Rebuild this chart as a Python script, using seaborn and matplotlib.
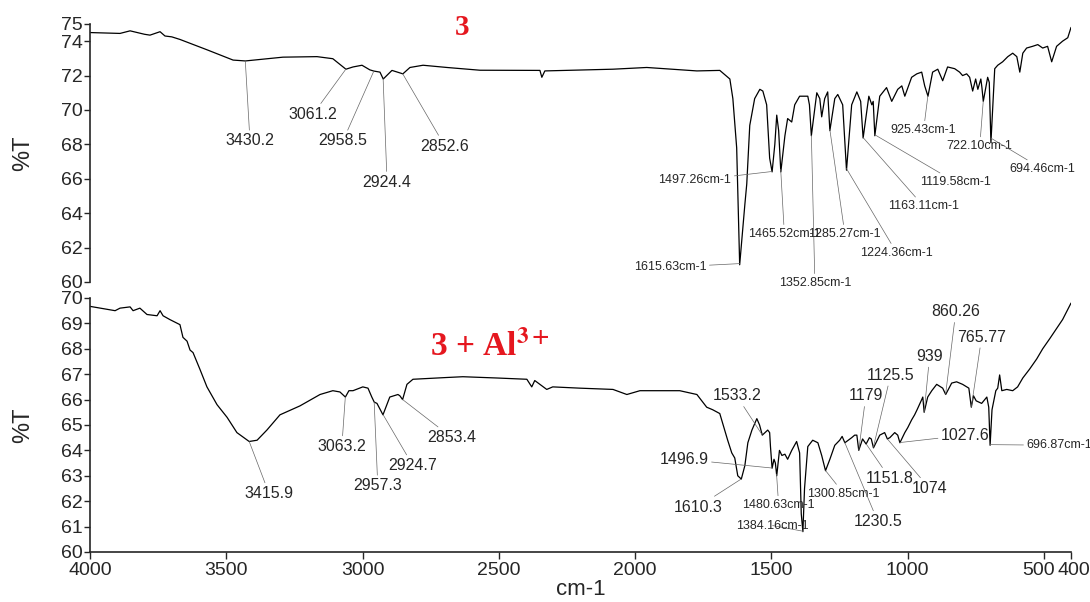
import numpy as np
import matplotlib
matplotlib.use("Agg")
import matplotlib.pyplot as plt
import matplotlib.transforms as mtransforms
import seaborn as sns

# --- Spectrum of 3 (top panel) ---
top_wn = [4000, 3890, 3853, 3800, 3780, 3743, 3725, 3700, 3670, 3571, 3475, 3430,
          3292, 3167, 3109, 3061, 3035, 3002, 2973, 2958, 2936, 2924, 2892, 2852,
          2826, 2778, 2690, 2569, 2349, 2342, 2331, 2081, 1957, 1773, 1689, 1652,
          1641, 1627, 1616, 1597, 1590, 1579, 1561, 1542, 1531, 1517, 1506, 1497,
          1487, 1480, 1473, 1465, 1450, 1440, 1425, 1414, 1396, 1366, 1360, 1353,
          1333, 1322, 1315, 1304, 1293, 1285, 1267, 1256, 1238, 1224, 1205, 1186,
          1172, 1163, 1142, 1131, 1126, 1120, 1102, 1077, 1058, 1036, 1021, 1010,
          985, 966, 948, 937, 925, 908, 889, 871, 853, 827, 809, 798, 783, 772,
          761, 750, 742, 731, 727, 722, 706, 700, 694, 680, 669, 651, 632, 614,
          599, 588, 577, 563, 541, 522, 504, 486, 471, 453, 431, 412, 400]
top_t = [74.5, 74.45, 74.6, 74.4, 74.35, 74.55, 74.3, 74.25, 74.1, 73.5, 72.9, 72.85,
         73.07, 73.1, 72.98, 72.37, 72.5, 72.6, 72.33, 72.26, 72.2, 71.8, 72.3, 72.1,
         72.47, 72.6, 72.47, 72.31, 72.3, 71.9, 72.27, 72.37, 72.47, 72.27, 72.3, 71.8,
         70.66, 67.8, 61.0, 64.5, 65.7, 69.1, 70.66, 71.2, 71.1, 70.3, 67.2, 66.4,
         68.0, 69.7, 68.8, 66.4, 68.5, 69.5, 69.3, 70.3, 70.8, 70.8, 70.3, 68.5,
         71.0, 70.66, 69.6, 70.66, 71.05, 68.8, 70.66, 70.9, 70.3, 66.5, 70.3, 71.05,
         70.5, 68.37, 70.8, 70.3, 70.5, 68.5, 70.8, 71.3, 70.5, 71.2, 71.4, 70.8,
         71.9, 72.1, 72.2, 71.4, 70.8, 72.2, 72.37, 71.7, 72.5, 72.4, 72.2, 72.0, 72.1, 71.9,
         71.1, 71.8, 71.2, 71.8, 71.3, 70.5, 71.9, 71.6, 68.1, 72.4, 72.6, 72.8, 73.1, 73.3,
         73.1, 72.2, 73.3, 73.6, 73.7, 73.8, 73.6, 73.7, 72.8, 73.7, 74.0, 74.2, 74.8]

# --- Spectrum of 3 + Al3+ (bottom panel) ---
bot_wn = [4000, 3908, 3890, 3853, 3842, 3817, 3791, 3754, 3743, 3732, 3707, 3670,
          3659, 3644, 3633, 3622, 3597, 3571, 3534, 3497, 3461, 3416, 3387, 3351,
          3303, 3230, 3156, 3109, 3083, 3063, 3050, 3035, 2999, 2980, 2966, 2957,
          2947, 2925, 2900, 2870, 2863, 2853, 2837, 2815, 2690, 2632, 2507, 2397,
          2379, 2368, 2349, 2324, 2302, 2203, 2081, 2030, 1982, 1836, 1773, 1755,
          1737, 1715, 1689, 1678, 1660, 1645, 1634, 1623, 1610, 1597, 1586, 1571,
          1553, 1543, 1533, 1513, 1506, 1503, 1497, 1490, 1485, 1480, 1470, 1461,
          1450, 1440, 1425, 1407, 1396, 1390, 1384, 1378, 1370, 1366, 1348, 1329,
          1315, 1301, 1285, 1267, 1249, 1240, 1230, 1205, 1194, 1186, 1179, 1165,
          1152, 1140, 1133, 1125, 1102, 1084, 1074, 1065, 1047, 1036, 1028, 1010,
          999, 985, 974, 965, 948, 944, 939, 926, 911, 893, 871, 860, 838, 820,
          798, 775, 766, 758, 748, 728, 709, 702, 697, 690, 676, 669, 662, 654,
          636, 614, 596, 577, 552, 526, 504, 478, 453, 431, 412, 400]
bot_t = [69.67, 69.5, 69.6, 69.65, 69.5, 69.6, 69.35, 69.3, 69.5, 69.3, 69.15, 68.95,
         68.45, 68.3, 67.95, 67.85, 67.2, 66.5, 65.8, 65.3, 64.7, 64.35, 64.4, 64.8,
         65.4, 65.75, 66.2, 66.35, 66.3, 66.1, 66.35, 66.35, 66.5, 66.45, 66.1, 65.9,
         65.85, 65.4, 66.1, 66.2, 66.15, 66.0, 66.6, 66.8, 66.87, 66.9, 66.85, 66.8,
         66.5, 66.75, 66.6, 66.4, 66.5, 66.45, 66.4, 66.2, 66.35, 66.35, 66.2, 65.95,
         65.7, 65.6, 65.45, 65.05, 64.4, 63.9, 63.7, 63.0, 62.87, 63.4, 64.3, 64.8,
         65.25, 65.0, 64.6, 64.8, 64.7, 64.15, 63.3, 63.65, 63.5, 63.0, 64.0, 63.8,
         63.85, 63.65, 64.0, 64.35, 63.9, 61.5, 60.8, 62.5, 63.6, 64.15, 64.4, 64.3,
         63.8, 63.2, 63.65, 64.2, 64.4, 64.55, 64.3, 64.5, 64.6, 64.6, 64.0, 64.45,
         64.25, 64.5, 64.45, 64.1, 64.6, 64.7, 64.45, 64.5, 64.7, 64.6, 64.3, 64.7,
         64.9, 65.2, 65.4, 65.6, 66.0, 66.1, 65.5, 66.1, 66.35, 66.6, 66.45, 66.2, 66.65, 66.7,
         66.6, 66.45, 65.7, 66.15, 65.95, 65.85, 66.1, 65.7, 64.2, 65.6, 66.35, 66.45, 66.97, 66.35,
         66.4, 66.35, 66.5, 66.85, 67.2, 67.6, 68.0, 68.4, 68.8, 69.15, 69.55, 69.8]

# --- Peak labels ---
top_peaks = [3430.2, 3061.2, 2958.5, 2924.4, 2852.6, 1615.63, 1497.26, 1465.52,
             1352.85, 1285.27, 1224.36, 1163.11, 1119.58, 925.43, 722.10, 694.46]
top_labels = ["3430.2", "3061.2", "2958.5", "2924.4", "2852.6", "1615.63cm-1",
              "1497.26cm-1", "1465.52cm-1", "1352.85cm-1", "1285.27cm-1",
              "1224.36cm-1", "1163.11cm-1", "1119.58cm-1", "925.43cm-1",
              "722.10cm-1", "694.46cm-1"]
bot_peaks = [3415.9, 3063.2, 2957.3, 2924.7, 2853.4, 1610.3, 1533.2, 1496.9,
             1480.63, 1384.16, 1300.85, 1230.5, 1179, 1151.8, 1125.5, 1074,
             1027.6, 939, 860.26, 765.77, 696.87]
bot_labels = ["3415.9", "3063.2", "2957.3", "2924.7", "2853.4", "1610.3", "1533.2",
              "1496.9", "1480.63cm-1", "1384.16cm-1", "1300.85cm-1", "1230.5",
              "1179", "1151.8", "1125.5", "1074", "1027.6", "939", "860.26",
              "765.77", "696.87cm-1"]

x_ticks = [4000, 3500, 3000, 2500, 2000, 1500, 1000, 500, 400]
top_yticks = [60, 62, 64, 66, 68, 70, 72, 74, 75]
bot_yticks = [60, 61, 62, 63, 64, 65, 66, 67, 68, 69, 70]

# where the label texts sit (data coords)
top_text_pos = [(3413, 68.2), (3182, 69.75), (3072, 68.2), (2910, 65.8), (2698, 67.9),
                (1872, 60.86), (1781, 65.9), (1452, 62.8), (1340, 59.95), (1230, 62.8),
                (1040, 61.7), (941, 64.4), (823, 65.8), (941, 68.84), (735, 67.9),
                (504, 66.56)]
bot_text_pos = [(3343, 62.3), (3076, 64.15), (2944, 62.6), (2815, 63.4), (2672, 64.5),
                (1770, 61.77), (1627, 66.15), (1821, 63.65), (1473, 61.85), (1495, 61.04),
                (1234, 62.3), (1109, 61.2), (1153, 66.15), (1065, 62.9), (1062, 66.96),
                (919, 62.5), (787, 64.6), (919, 67.7), (823, 69.46), (728, 68.46),
                (442, 64.2)]

sns.set_style("ticks")
plt.rcParams['font.family'] = ['Liberation Sans', 'DejaVu Sans']
plt.rcParams['mathtext.fontset'] = 'stix'

fig = plt.figure(figsize=(10.9, 6.02), dpi=100)
ax1 = fig.add_axes([0.0826, 0.5316, 0.9, 0.4286])
ax2 = fig.add_axes([0.0826, 0.0831, 0.9, 0.4219])

sns.lineplot(x=top_wn, y=top_t, ax=ax1, color="black", lw=0.9, estimator=None)
sns.lineplot(x=bot_wn, y=bot_t, ax=ax2, color="black", lw=0.9, estimator=None)


def label_peaks(ax, wn, t, peaks, labels, pos):
    xs = np.array(wn)[::-1]
    ys = np.array(t)[::-1]
    for p, lab, (tx, ty) in zip(peaks, labels, pos):
        fs = 9 if "cm" in lab else 11.5
        ax.annotate(lab, xy=(p, np.interp(p, xs, ys)), xytext=(tx, ty),
                    ha="center", va="center", fontsize=fs, annotation_clip=False,
                    arrowprops=dict(arrowstyle="-", color="0.4", lw=0.5,
                                    shrinkA=0, shrinkB=0))


label_peaks(ax1, top_wn, top_t, top_peaks, top_labels, top_text_pos)
label_peaks(ax2, bot_wn, bot_t, bot_peaks, bot_labels, bot_text_pos)

# --- Axes ---
for ax in (ax1, ax2):
    ax.set_xlim(4000, 400)
    ax.spines[["top", "right"]].set_visible(False)
    ax.spines["left"].set_linewidth(1.2)
    ax.spines["bottom"].set_linewidth(1.2)
    ax.tick_params(axis="y", direction="out", length=4, width=1, labelsize=14, pad=1)
    ax.set_ylabel("%T", fontsize=17)
    ax.yaxis.set_label_coords(-0.057, 0.5)

ax1.set_ylim(60, 75)
ax1.set_yticks(top_yticks)
ax1.set_xticks([])
ax1.spines["bottom"].set_visible(False)
ax1.set_xlabel("")

ax2.set_ylim(60, 70)
ax2.set_yticks(bot_yticks)
ax2.set_xticks(x_ticks)
ax2.tick_params(axis="x", direction="out", length=5, width=1, labelsize=14, pad=2)
ax2.set_xlabel("cm-1", fontsize=16, labelpad=0)

# squeeze the crowded 500 / 400 labels apart
tls = ax2.get_xticklabels()
tls[-2].set_transform(tls[-2].get_transform() +
                      mtransforms.ScaledTranslation(-4 / 72, 0, fig.dpi_scale_trans))
tls[-1].set_transform(tls[-1].get_transform() +
                      mtransforms.ScaledTranslation(2 / 72, 0, fig.dpi_scale_trans))

# --- Sample names ---
red = "#e5171f"
ax1.text(2635, 74.8, "3", color=red, fontsize=21, fontweight="bold",
         family="Liberation Serif", ha="center", va="center")
ax2.text(2533, 68.1, r"3 + Al$^{\mathbf{3+}}$", color=red, fontsize=24,
         fontweight="bold", family="Liberation Serif", ha="center", va="center")

fig.savefig("out.png", dpi=100, facecolor="white")
